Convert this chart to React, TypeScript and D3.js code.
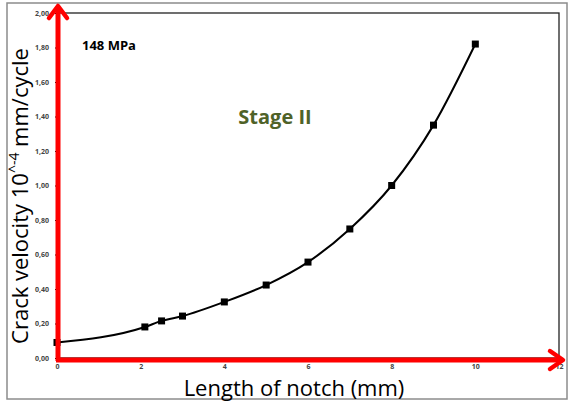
import * as d3 from "d3"
import { useEffect, useRef } from "react"

// notch length (mm) and crack velocity (10^-4 mm/cycle)
const lengths = [0, 2.1, 2.5, 3, 4, 5, 6, 7, 8, 9, 10]
const velocities = [0.09, 0.18, 0.215, 0.243, 0.325, 0.423, 0.556, 0.748, 1.0, 1.35, 1.82]
const xTicks = [0, 2, 4, 6, 8, 10, 12]
const yTicks = [0, 0.2, 0.4, 0.6, 0.8, 1.0, 1.2, 1.4, 1.6, 1.8, 2.0]

const width = 569
const height = 402

export default function App() {
  const ref = useRef(null)

  useEffect(() => {
    const svg = d3.select(ref.current)
    svg.selectAll("*").remove()

    const x = d3.scaleLinear().domain([0, 12]).range([57, 559])
    const y = d3.scaleLinear().domain([0, 2]).range([358, 13])

    // outer frame
    svg.append("rect")
      .attr("x", 7).attr("y", 3)
      .attr("width", 560).attr("height", 396)
      .attr("fill", "#fff")
      .attr("stroke", "#8c8c8c")
      .attr("stroke-width", 1.5)

    // plot frame
    svg.append("rect")
      .attr("x", x(0)).attr("y", y(2))
      .attr("width", x(12) - x(0)).attr("height", y(0) - y(2))
      .attr("fill", "none")
      .attr("stroke", "#222")
      .attr("stroke-width", 1.3)

    const fmt = d3.format(".2f")

    const yAxis = d3.axisLeft(y).tickValues(yTicks).tickSize(2).tickPadding(6)
      .tickFormat(d => fmt(d).replace(".", ","))
    svg.append("g")
      .attr("transform", `translate(${x(0)},0)`)
      .call(yAxis)
      .call(g => g.select(".domain").remove())
      .call(g => g.selectAll("text")
        .attr("font-family", "Open Sans, sans-serif")
        .attr("font-size", 7)
        .attr("font-weight", "bold")
        .attr("fill", "#444"))

    const xAxis = d3.axisBottom(x).tickValues(xTicks).tickSize(2).tickPadding(4)
    svg.append("g")
      .attr("transform", `translate(0,${y(0)})`)
      .call(xAxis)
      .call(g => g.select(".domain").remove())
      .call(g => g.selectAll("text")
        .attr("font-family", "Open Sans, sans-serif")
        .attr("font-size", 7)
        .attr("font-weight", "bold")
        .attr("fill", "#444"))

    const data = lengths.map((l, i) => [l, velocities[i]])

    const line = d3.line()
      .x(d => x(d[0]))
      .y(d => y(d[1]))
      .curve(d3.curveMonotoneX)

    svg.append("path")
      .datum(data)
      .attr("d", line)
      .attr("fill", "none")
      .attr("stroke", "#000")
      .attr("stroke-width", 2)

    svg.append("g")
      .selectAll("rect")
      .data(data)
      .join("rect")
      .attr("x", d => x(d[0]) - 3.5)
      .attr("y", d => y(d[1]) - 3.5)
      .attr("width", 7)
      .attr("height", 7)
      .attr("fill", "#000")

    // red arrow axes
    const red = "#ff0000"
    svg.append("line")
      .attr("x1", x(0) + 1).attr("y1", y(0) + 3)
      .attr("x2", x(0) + 1).attr("y2", 8)
      .attr("stroke", red).attr("stroke-width", 5)
    svg.append("path")
      .attr("d", `M${x(0) - 8},${18} L${x(0) + 1},${6} L${x(0) + 10},${18}`)
      .attr("fill", "none").attr("stroke", red).attr("stroke-width", 4.5)
      .attr("stroke-linecap", "round").attr("stroke-linejoin", "round")

    svg.append("line")
      .attr("x1", x(0) - 1).attr("y1", y(0) + 2)
      .attr("x2", 561).attr("y2", y(0) + 2)
      .attr("stroke", red).attr("stroke-width", 5)
    svg.append("path")
      .attr("d", `M${550},${y(0) - 7} L${563},${y(0) + 2} L${550},${y(0) + 11}`)
      .attr("fill", "none").attr("stroke", red).attr("stroke-width", 4.5)
      .attr("stroke-linecap", "round").attr("stroke-linejoin", "round")

    // titles
    const yTitle = svg.append("text")
      .attr("transform", `translate(28,${196}) rotate(-90)`)
      .attr("text-anchor", "middle")
      .attr("font-family", "Open Sans, sans-serif")
      .attr("font-size", 22)
      .attr("fill", "#000")
    yTitle.append("tspan").text("Crack velocity 10")
    yTitle.append("tspan").attr("font-size", 14).attr("dy", -9).text("^-4")
    yTitle.append("tspan").attr("dy", 9).text(" mm/cycle")

    svg.append("text")
      .attr("x", 294).attr("y", 396)
      .attr("text-anchor", "middle")
      .attr("font-family", "Open Sans, sans-serif")
      .attr("font-size", 22)
      .attr("fill", "#000")
      .text("Length of notch (mm)")

    svg.append("text")
      .attr("x", 82).attr("y", 50)
      .attr("font-family", "Open Sans, sans-serif")
      .attr("font-size", 13)
      .attr("font-weight", "bold")
      .attr("fill", "#000")
      .text("148 MPa")

    svg.append("text")
      .attr("x", 275).attr("y", 124)
      .attr("text-anchor", "middle")
      .attr("font-family", "Open Sans, sans-serif")
      .attr("font-size", 20)
      .attr("font-weight", "bold")
      .attr("fill", "#4f6228")
      .text("Stage II")
  }, [])

  return (
    <svg ref={ref} width={width} height={height}
      style={{ position: "absolute", left: 0, top: 0, background: "#fff" }} />
  )
}
